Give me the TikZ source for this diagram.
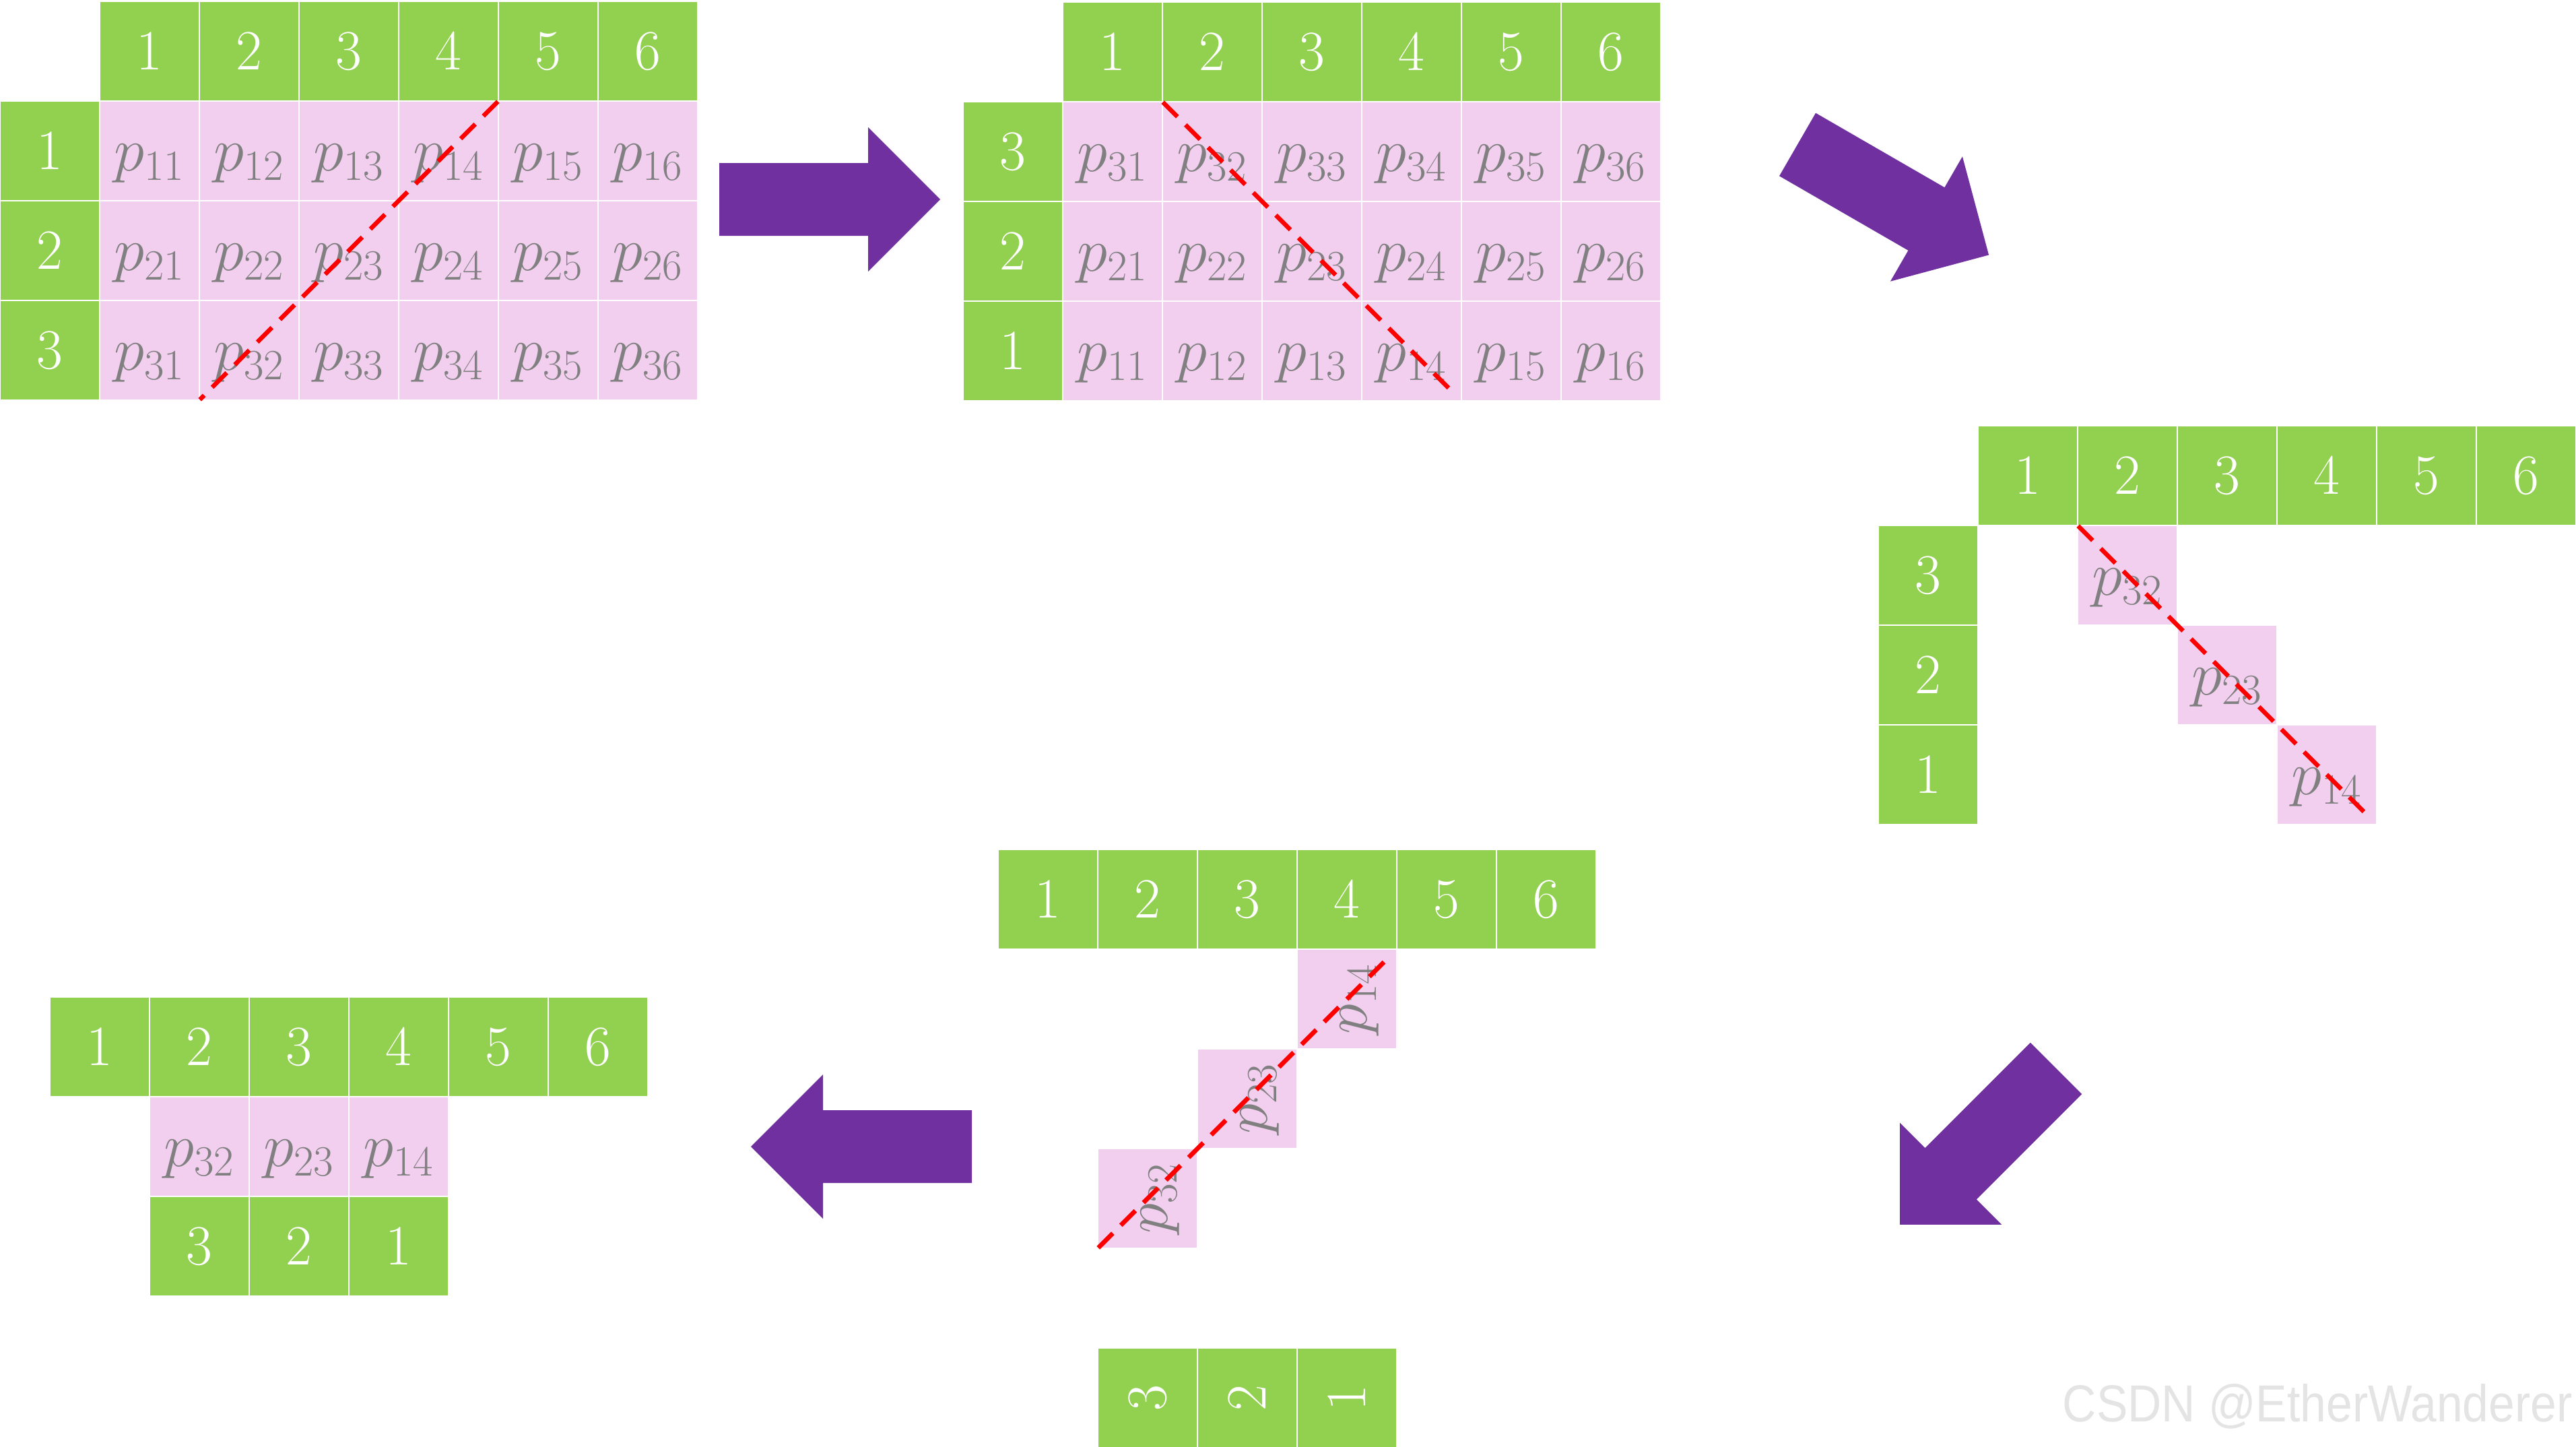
\documentclass[tikz,border=0pt]{standalone}
\usepackage{fix-cm}
\usepackage{fontspec}
\usetikzlibrary{matrix}
\newfontfamily\markfont{Liberation Sans}

\definecolor{cellgreen}{HTML}{92D050}
\definecolor{cellpink}{HTML}{F2CEEF}
\definecolor{textgray}{HTML}{808080}
\definecolor{arrowpurple}{HTML}{7030A0}
\definecolor{markgray}{HTML}{E4E4E4}

\tikzset{
  cell/.style={minimum size=1.48cm-0.4pt, inner sep=0pt, outer sep=0pt, anchor=center, draw=white, line width=0.4pt},
  gcell/.style={cell, fill=cellgreen, text=white, font=\fontsize{24}{28}\selectfont, text height=0.55cm, text depth=0pt},
  pk/.style={cell, fill=cellpink, text=textgray, font=\fontsize{26}{30}\selectfont, text height=0.59cm, text depth=0pt},
  tbl/.style={matrix of nodes, inner sep=0pt, outer sep=0pt, row sep=0pt, column sep=0pt, anchor=north west},
  cutline/.style={red, line width=1.9pt, dash pattern=on 8.7pt off 4.8pt},
  pics/bigarrow/.style={code={
    \fill[arrowpurple] (0,0.54) -- (2.21,0.54) -- (2.21,1.07) -- (3.28,0)
      -- (2.21,-1.07) -- (2.21,-0.54) -- (0,-0.54) -- cycle;
  }}
}

\begin{document}
\begin{tikzpicture}
  \path[use as bounding box, fill=white] (0,0) rectangle (38.25,-21.47);

  % full table
  \matrix (t1) [tbl, nodes={pk}, row 1/.style={nodes={gcell}}] at (0,-0.02)
  {
               & 1 & 2 & 3 & 4 & 5 & 6 \\
    |[gcell]| 1 & $p_{11}$ & $p_{12}$ & $p_{13}$ & $p_{14}$ & $p_{15}$ & $p_{16}$ \\
    |[gcell]| 2 & $p_{21}$ & $p_{22}$ & $p_{23}$ & $p_{24}$ & $p_{25}$ & $p_{26}$ \\
    |[gcell]| 3 & $p_{31}$ & $p_{32}$ & $p_{33}$ & $p_{34}$ & $p_{35}$ & $p_{36}$ \\
  };
  \draw[cutline] (t1-2-5.north east) -- (t1-4-3.south west);

  % rows flipped
  \matrix (t2) [tbl, nodes={pk}, row 1/.style={nodes={gcell}}] at (14.30,-0.03)
  {
               & 1 & 2 & 3 & 4 & 5 & 6 \\
    |[gcell]| 3 & $p_{31}$ & $p_{32}$ & $p_{33}$ & $p_{34}$ & $p_{35}$ & $p_{36}$ \\
    |[gcell]| 2 & $p_{21}$ & $p_{22}$ & $p_{23}$ & $p_{24}$ & $p_{25}$ & $p_{26}$ \\
    |[gcell]| 1 & $p_{11}$ & $p_{12}$ & $p_{13}$ & $p_{14}$ & $p_{15}$ & $p_{16}$ \\
  };
  \draw[cutline, shorten >=0.22cm] (t2-2-3.north west) -- (t2-4-5.south east);

  % only the diagonal kept
  \matrix (t3) [tbl, nodes={gcell}] at (27.89,-6.32)
  {
      & 1 & 2 & 3 & 4 & 5 & 6 \\
    3 &   & |[pk]| $p_{32}$ \\
    2 &   &   & |[pk]| $p_{23}$ \\
    1 &   &   &   & |[pk]| $p_{14}$ \\
  };
  \draw[cutline, shorten >=0.22cm] (t3-2-3.north west) -- (t3-4-5.south east);

  % turned a quarter
  \matrix (t4) [tbl, nodes={gcell}, row 5/.style={nodes={rotate=90}}] at (14.82,-12.61)
  {
    1 & 2 & 3 & 4 & 5 & 6 \\
      &   &   & |[pk, rotate=90]| $p_{14}$ \\
      &   & |[pk, rotate=90]| $p_{23}$ \\
      & |[pk, rotate=90]| $p_{32}$ \\[1.48cm]
      & 3 & 2 & 1 \\
  };
  % rotated cells: north west is drawn at the lower left, south east at the upper right
  \draw[cutline, shorten >=0.22cm] (t4-4-2.north west) -- (t4-2-4.south east);

  % result
  \matrix (t5) [tbl, nodes={gcell}] at (0.74,-14.80)
  {
    1 & 2 & 3 & 4 & 5 & 6 \\
      & |[pk]| $p_{32}$ & |[pk]| $p_{23}$ & |[pk]| $p_{14}$ \\
      & 3 & 2 & 1 \\
  };

  % steps
  \pic at (10.68,-2.96) {bigarrow};
  \pic[rotate=-30] at (26.69,-2.145) {bigarrow};
  \pic[rotate=-135] at (30.53,-15.86) {bigarrow};
  \pic[rotate=180] at (14.43,-17.02) {bigarrow};

  \node[anchor=base east, inner sep=0pt, text=markgray, font=\markfont\fontsize{22}{26}\selectfont]
    (mark) at (38.20,-21.10) {\scalebox{0.9}[1]{CSDN @EtherWanderer}};
\end{tikzpicture}
\end{document}
